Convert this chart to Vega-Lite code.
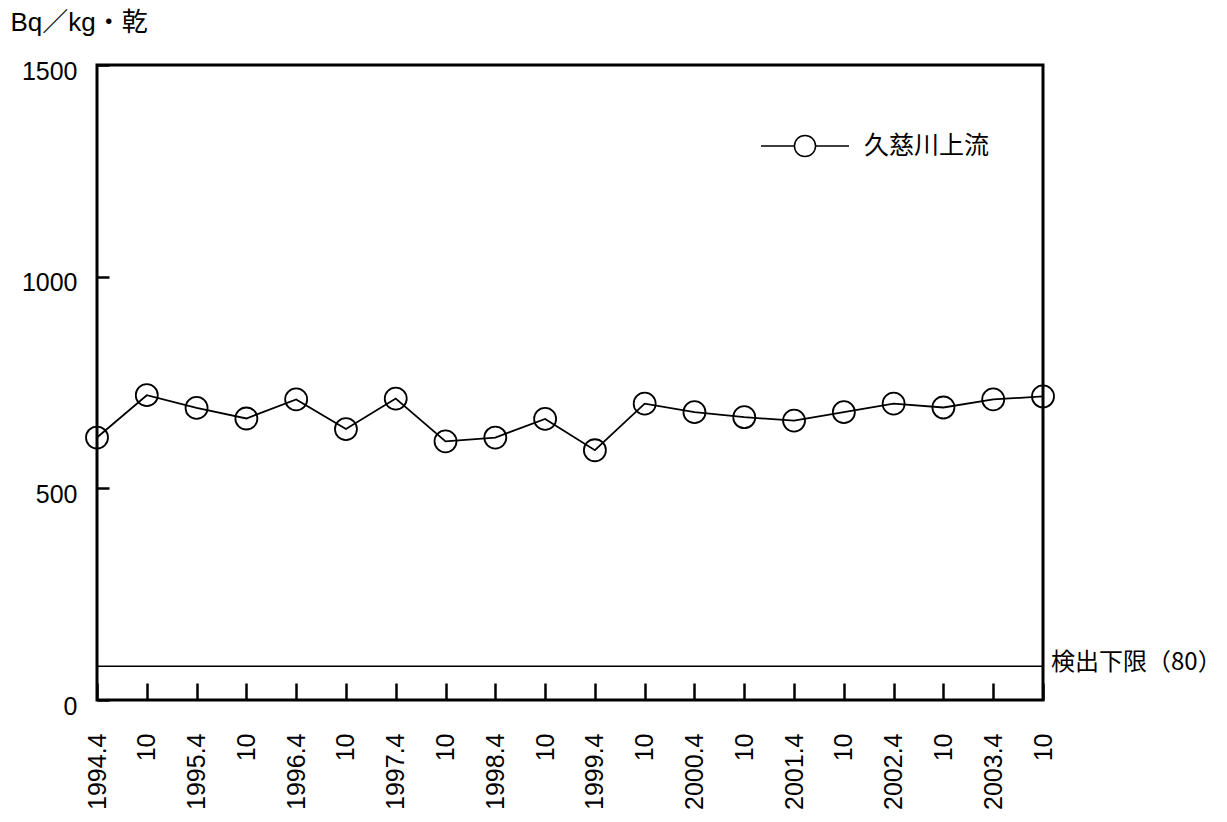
{
  "$schema": "https://vega.github.io/schema/vega-lite/v6.json",
  "width": 946,
  "height": 635,
  "autosize": "none",
  "padding": {"left": 97, "top": 65, "right": 184, "bottom": 122},
  "background": "white",
  "config": {
    "view": {"stroke": "black", "strokeWidth": 3},
    "font": "Liberation Sans, Arial, Noto Sans CJK JP"
  },
  "datasets": {
    "series": [
      {"period": "1994.4", "site": "久慈川上流", "value": 620},
      {"period": "1994.10", "site": "久慈川上流", "value": 720},
      {"period": "1995.4", "site": "久慈川上流", "value": 690},
      {"period": "1995.10", "site": "久慈川上流", "value": 665},
      {"period": "1996.4", "site": "久慈川上流", "value": 710},
      {"period": "1996.10", "site": "久慈川上流", "value": 640},
      {"period": "1997.4", "site": "久慈川上流", "value": 712},
      {"period": "1997.10", "site": "久慈川上流", "value": 611},
      {"period": "1998.4", "site": "久慈川上流", "value": 620},
      {"period": "1998.10", "site": "久慈川上流", "value": 664},
      {"period": "1999.4", "site": "久慈川上流", "value": 590},
      {"period": "1999.10", "site": "久慈川上流", "value": 700},
      {"period": "2000.4", "site": "久慈川上流", "value": 680},
      {"period": "2000.10", "site": "久慈川上流", "value": 668},
      {"period": "2001.4", "site": "久慈川上流", "value": 660},
      {"period": "2001.10", "site": "久慈川上流", "value": 680},
      {"period": "2002.4", "site": "久慈川上流", "value": 700},
      {"period": "2002.10", "site": "久慈川上流", "value": 691},
      {"period": "2003.4", "site": "久慈川上流", "value": 710},
      {"period": "2003.10", "site": "久慈川上流", "value": 717}
    ],
    "limit": [{"value": 80, "label": "検出下限（80）"}]
  },
  "layer": [
    {
      "data": {"name": "series"},
      "mark": {
        "type": "line",
        "color": "black",
        "strokeWidth": 1.8,
        "point": {"filled": false, "size": 484, "strokeWidth": 1.8, "color": "black", "fill": "transparent"}
      },
      "encoding": {
        "x": {
          "field": "period",
          "type": "ordinal",
          "sort": null,
          "scale": {"type": "point", "padding": 0},
          "axis": {
            "title": null,
            "domain": false,
            "labelAngle": -90,
            "labelFontSize": 25,
            "labelColor": "black",
            "labelPadding": 50,
            "tickSize": -17,
            "tickWidth": 2.5,
            "tickColor": "black",
            "labelExpr": "indexof(datum.label, '.10') > 0 ? '10' : datum.label"
          }
        },
        "y": {
          "field": "value",
          "type": "quantitative",
          "scale": {"domain": [0, 1500], "nice": false},
          "axis": {
            "values": [0, 500, 1000, 1500],
            "format": "d",
            "domain": false,
            "grid": false,
            "tickSize": -12,
            "tickWidth": 2.5,
            "tickColor": "black",
            "labelFontSize": 25,
            "labelColor": "black",
            "labelPadding": 32,
            "labelOffset": 6,
            "title": "Bq／kg・乾",
            "titleAngle": 0,
            "titleAlign": "left",
            "titleBaseline": "middle",
            "titleX": -87,
            "titleY": -43,
            "titleFontSize": 26,
            "titleFontWeight": "normal",
            "titleColor": "black",
            "titleFont": "Liberation Sans, Arial, Noto Sans CJK JP"
          }
        },
        "color": {
          "field": "site",
          "type": "nominal",
          "scale": {"range": ["black"]},
          "legend": {
            "orient": "none",
            "legendX": 663,
            "legendY": 36,
            "title": null,
            "padding": 0,
            "symbolType": "M-1,0L-0.24,0M0.24,0L1,0M-0.24,0A0.24,0.24 0 1,0 0.24,0A0.24,0.24 0 1,0 -0.24,0",
            "symbolSize": 7744,
            "symbolStrokeWidth": 1.5,
            "symbolStrokeColor": "black",
            "symbolFillColor": "transparent",
            "labelFontSize": 25,
            "labelFont": "Noto Sans CJK JP",
            "labelColor": "black",
            "labelOffset": 14
          }
        }
      }
    },
    {
      "data": {"name": "limit"},
      "mark": {"type": "rule", "color": "black", "strokeWidth": 1.5},
      "encoding": {"y": {"field": "value", "type": "quantitative"}}
    },
    {
      "data": {"name": "limit"},
      "mark": {
        "type": "text",
        "x": {"expr": "width"},
        "dx": 8,
        "dy": -3,
        "align": "left",
        "baseline": "middle",
        "fontSize": 24,
        "font": "Noto Sans CJK JP",
        "color": "black"
      },
      "encoding": {
        "y": {"field": "value", "type": "quantitative"},
        "text": {"field": "label"}
      }
    }
  ]
}
